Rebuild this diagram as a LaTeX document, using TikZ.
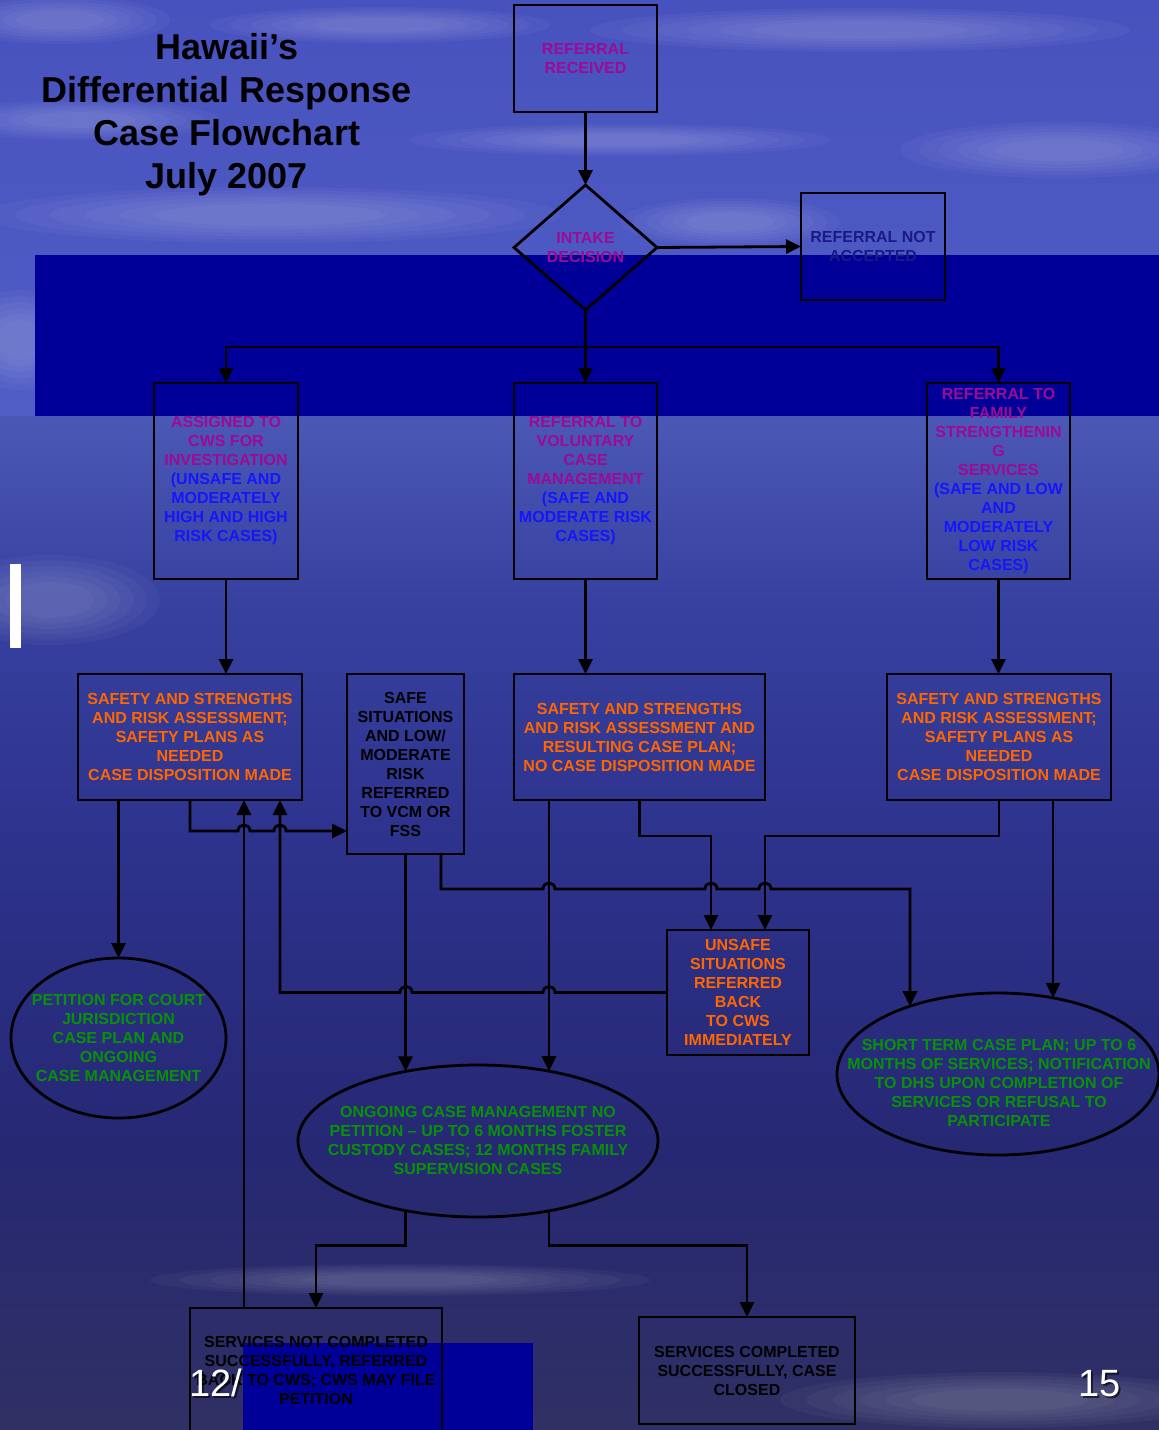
\documentclass[tikz,border=0pt]{standalone}
\usepackage{fontspec}
\setmainfont{Liberation Sans}
\usetikzlibrary{shapes.geometric,arrows.meta,calc}
\definecolor{purp}{RGB}{156,10,150}
\definecolor{blu}{RGB}{22,22,250}
\definecolor{orng}{RGB}{255,102,0}
\definecolor{grn}{RGB}{8,145,8}
\definecolor{navyt}{RGB}{26,26,135}
\definecolor{bandc}{RGB}{0,0,153}
\definecolor{skyA}{RGB}{72,82,190}
\definecolor{skyB}{RGB}{80,94,198}
\definecolor{seaA}{RGB}{76,88,182}
\definecolor{seaB}{RGB}{55,65,160}
\definecolor{seaC}{RGB}{45,50,140}
\definecolor{seaD}{RGB}{38,40,115}
\definecolor{seaE}{RGB}{48,48,100}
\newcommand\hopR[2]{-- (#1-6,#2) .. controls (#1-6,#2-8) and (#1+6,#2-8) .. (#1+6,#2)}
\newcommand\hopL[2]{-- (#1+6,#2) .. controls (#1+6,#2-8) and (#1-6,#2-8) .. (#1-6,#2)}
\newcommand\mycloud[4]{%
  \foreach \s in {1.0,0.88,0.76,0.64,0.52,0.40}{%
    \fill[white,opacity=0.035] (#1,#2) ellipse [x radius=\s*#3pt, y radius=\s*#4pt];}}
\tikzset{
  box/.style={draw=black, line width=2.8pt, rectangle, inner sep=0pt, outer sep=0pt,
    align=center, font=\bfseries\fontsize{16}{19}\selectfont},
  ell/.style={draw=black, ellipse, line width=2.8pt, inner sep=0pt, outer sep=0pt},
  txt/.style={align=center, inner sep=0pt, font=\bfseries\fontsize{16}{19}\selectfont},
  conn/.style={line width=2.8pt, draw=black},
  arr/.style={conn, -{Triangle[length=15pt,width=14pt]}},
  pnum/.style={font=\fontsize{38}{38}\selectfont, inner sep=0pt}
}
\begin{document}
\begin{tikzpicture}[x=1pt,y=-1pt]
\useasboundingbox (0,0) rectangle (1159,1430);
\clip (0,0) rectangle (1159,1430);
% background
\shade[top color=skyA, bottom color=skyB] (0,0) rectangle (1159,418);
\shade[top color=seaA, bottom color=seaB] (0,416) rectangle (1159,600);
\shade[top color=seaB, bottom color=seaC] (0,599) rectangle (1159,850);
\shade[top color=seaC, bottom color=seaD] (0,849) rectangle (1159,1150);
\shade[top color=seaD, bottom color=seaE] (0,1149) rectangle (1159,1430);
\mycloud{380}{25}{170}{18}
\mycloud{60}{20}{110}{24}
\mycloud{860}{30}{270}{22}
\mycloud{80}{120}{140}{20}
\mycloud{270}{215}{290}{28}
\mycloud{730}{222}{110}{24}
\mycloud{1060}{150}{160}{28}
\mycloud{620}{140}{210}{16}
\mycloud{20}{340}{60}{50}
\mycloud{50}{600}{110}{45}
\mycloud{1000}{1400}{220}{28}
\mycloud{400}{1280}{250}{16}
% bands
\fill[bandc] (35,255) rectangle (1159,416);
\fill[bandc] (243,1343) rectangle (533,1430);
\fill[white] (10,564) rectangle (21,648);
% title
\node[align=center, inner sep=0pt, font=\bfseries\fontsize{36}{43}\selectfont] (T) at (227,115)
  {Hawaii’s\\Differential Response\\Case Flowchart\\July 2007};
% nodes
\node[box, minimum width=143pt, minimum height=107pt] (RR) at (585.5,58.5)
  {\textcolor{purp}{REFERRAL}\\\textcolor{purp}{RECEIVED}};
\node[draw=black, diamond, line width=2.8pt, minimum width=143pt, minimum height=125pt,
  inner sep=0pt, outer sep=0pt] (ID) at (585.5,247.5) {};
\node[txt, text=purp] (IDt) at (ID.center) {INTAKE\\DECISION};
\node[box, minimum width=144pt, minimum height=107pt, text=navyt] (NA) at (873,246.5)
  {REFERRAL NOT\\ACCEPTED};
\node[box, minimum width=144pt, minimum height=196pt] (A) at (226,481)
  {\textcolor{purp}{ASSIGNED TO}\\\textcolor{purp}{CWS FOR}\\\textcolor{purp}{INVESTIGATION}\\
   \textcolor{blu}{(UNSAFE AND}\\\textcolor{blu}{MODERATELY}\\\textcolor{blu}{HIGH AND HIGH}\\
   \textcolor{blu}{RISK CASES)}};
\node[box, minimum width=143pt, minimum height=196pt] (B) at (585.5,481)
  {\textcolor{purp}{REFERRAL TO}\\\textcolor{purp}{VOLUNTARY}\\\textcolor{purp}{CASE}\\
   \textcolor{purp}{MANAGEMENT}\\\textcolor{blu}{(SAFE AND}\\\textcolor{blu}{MODERATE RISK}\\
   \textcolor{blu}{CASES)}};
\node[box, minimum width=143pt, minimum height=196pt] (C) at (998.5,481)
  {\textcolor{purp}{REFERRAL TO}\\\textcolor{purp}{FAMILY}\\\textcolor{purp}{STRENGTHENIN}\\
   \textcolor{purp}{G}\\\textcolor{purp}{SERVICES}\\\textcolor{blu}{(SAFE AND LOW}\\
   \textcolor{blu}{AND}\\\textcolor{blu}{MODERATELY}\\\textcolor{blu}{LOW RISK}\\\textcolor{blu}{CASES)}};
\node[box, minimum width=224pt, minimum height=126pt, text=orng] (D) at (190,737)
  {SAFETY AND STRENGTHS\\AND RISK ASSESSMENT;\\SAFETY PLANS AS\\NEEDED\\CASE DISPOSITION MADE};
\node[box, minimum width=117pt, minimum height=180pt, text=black] (E) at (405.5,764)
  {SAFE\\SITUATIONS\\AND LOW/\\MODERATE\\RISK\\REFERRED\\TO VCM OR\\FSS};
\node[box, minimum width=251pt, minimum height=126pt, text=orng] (F) at (639.5,737)
  {SAFETY AND STRENGTHS\\AND RISK ASSESSMENT AND\\RESULTING CASE PLAN;\\NO CASE DISPOSITION MADE};
\node[box, minimum width=224pt, minimum height=126pt, text=orng] (G) at (999,737)
  {SAFETY AND STRENGTHS\\AND RISK ASSESSMENT;\\SAFETY PLANS AS\\NEEDED\\CASE DISPOSITION MADE};
\node[box, minimum width=142pt, minimum height=125pt, text=orng] (H) at (738,992.5)
  {UNSAFE\\SITUATIONS\\REFERRED\\BACK\\TO CWS\\IMMEDIATELY};
\node[ell, minimum width=215pt, minimum height=160pt] (I) at (118.5,1038) {};
\node[txt, text=grn] (It) at (118.5,1037.5)
  {PETITION FOR COURT\\JURISDICTION\\CASE PLAN AND\\ONGOING\\CASE MANAGEMENT};
\node[ell, minimum width=360pt, minimum height=152pt] (J) at (478,1141) {};
\node[txt, text=grn] (Jt) at (478,1140.5)
  {ONGOING CASE MANAGEMENT NO\\PETITION – UP TO 6 MONTHS FOSTER\\CUSTODY CASES; 12 MONTHS FAMILY\\SUPERVISION CASES};
\node[ell, minimum width=322pt, minimum height=162pt] (K) at (998,1074) {};
\node[txt, text=grn] (Kt) at (999,1082.5)
  {SHORT TERM CASE PLAN; UP TO 6\\MONTHS OF SERVICES; NOTIFICATION\\TO DHS UPON COMPLETION OF\\SERVICES OR REFUSAL TO\\PARTICIPATE};
\node[box, minimum width=252pt, minimum height=124pt, text=black] (L) at (316,1370)
  {SERVICES NOT COMPLETED\\SUCCESSFULLY, REFERRED\\BACK TO CWS; CWS MAY FILE\\PETITION};
\node[box, minimum width=216pt, minimum height=107pt, text=black] (M) at (747,1370.5)
  {SERVICES COMPLETED\\SUCCESSFULLY, CASE\\CLOSED};
% ellipse attachment points
\path (J.center) ++(-72.5,-69.6) coordinate (Jn1);
\path (J.center) ++(71,-69.8) coordinate (Jn2);
\path (J.center) ++(-72.5,69.6) coordinate (Js1);
\path (J.center) ++(71,69.8) coordinate (Js2);
\path (K.center) ++(55,-76.1) coordinate (Kn1);
\path (K.center) ++(-88,-67.8) coordinate (Kn2);
% connectors
\draw[arr] (RR.south) -- (ID.north);
\draw[arr] (ID.east) -- (NA.west);
\draw[conn] (ID.south) -- ++(0,37) coordinate (split);
\draw[arr] (split) -| (A.north);
\draw[arr] (split) -| (C.north);
\draw[arr] (split) -- (B.north);
\draw[arr] (A.south) -- (A.south |- D.north);
\draw[arr] (B.south) -- (B.south |- F.north);
\draw[arr] (C.south) -- (C.south |- G.north);
\draw[arr] (D.south -| I.north) -- (I.north);
\coordinate (j1) at (190,831);
\draw[arr] (D.south) -- (j1) \hopR{244}{831} \hopR{280}{831} -- (j1 -| E.west);
\draw[arr] ([xshift=54pt]L.north west) -- ([xshift=54pt]L.north west |- D.south);
\coordinate (j2) at (280,992.5);
\draw[arr] (H.west) \hopL{549}{992.5} \hopL{406}{992.5} -- (j2) -- (j2 |- D.south);
\draw[arr] (E.south) -- (Jn1);
\draw[arr] (Jn2 |- F.south) -- (Jn2);
\draw[arr] (F.south) -- ++(0,36) -| ([xshift=44pt]H.north west);
\draw[arr] (G.south) -- ++(0,36) -| ([xshift=98pt]H.north west);
\draw[arr] (Kn1 |- G.south) -- (Kn1);
\coordinate (j3) at (441,889);
\draw[arr] (j3 |- E.south) -- (j3) \hopR{549}{889} \hopR{711}{889} \hopR{765}{889} -- (j3 -| Kn2) -- (Kn2);
\draw[arr] (Js1) -- ++(0,35) -| (L.north);
\draw[arr] (Js2) -- ++(0,35) -| (M.north);
% page numbers
\node[pnum, text=black, opacity=0.6, anchor=base west] at (191.5,1398.5) {12/};
\node[pnum, text=white, anchor=base west] (P12) at (189,1396) {12/};
\node[pnum, text=black, opacity=0.6, anchor=base west] at (1080.5,1398.5) {15};
\node[pnum, text=white, anchor=base west] (P15) at (1078,1396) {15};
\end{tikzpicture}
\end{document}
